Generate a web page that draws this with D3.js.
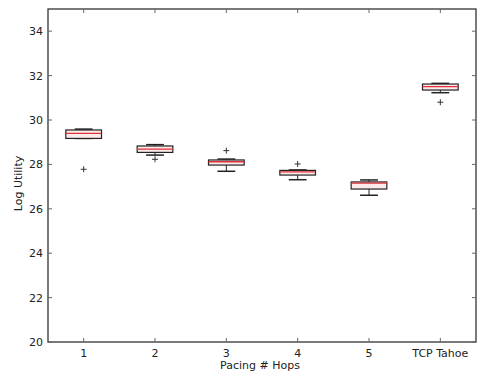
<!DOCTYPE html>
<html>
<head>
<meta charset="utf-8">
<script src="https://cdn.jsdelivr.net/npm/d3@7"></script>
<style>
  html, body { margin: 0; padding: 0; background: #fff; }
  svg { display: block; font-family: "DejaVu Sans", sans-serif; }
</style>
</head>
<body>
<svg id="chart" width="477" height="375"></svg>
<script>
// Box statistics per pacing configuration (log utility)
const categories = ["1", "2", "3", "4", "5", "TCP Tahoe"];
const whiskerLow  = [29.17, 28.42, 27.69, 27.31, 26.61, 31.23];
const q1          = [29.17, 28.54, 27.97, 27.52, 26.89, 31.35];
const medians     = [29.40, 28.69, 28.12, 27.66, 27.16, 31.50];
const q3          = [29.55, 28.83, 28.20, 27.73, 27.21, 31.62];
const whiskerHigh = [29.59, 28.89, 28.24, 27.75, 27.30, 31.65];
const outliers    = [[27.78], [28.23], [28.62], [28.02], [], [30.80]];
const yTicks = [20, 22, 24, 26, 28, 30, 32, 34];

const svg = d3.select("#chart");
const margin = { left: 48, right: 1, top: 9, bottom: 33 };
const W = 477, H = 375;
const x0 = margin.left, x1 = W - margin.right;
const y0 = H - margin.bottom, y1 = margin.top;

// Position scale: category i sits at i+1, axis spans 0.5..6.5
const x = d3.scaleLinear().domain([0.5, categories.length + 0.5]).range([x0, x1]);
const y = d3.scaleLinear().domain([20, 35]).range([y0, y1]);
const boxHalf = (x(1.25) - x(1));
const capHalf = boxHalf / 2;

const data = categories.map((c, i) => ({
  cat: c, pos: i + 1, lo: whiskerLow[i], q1: q1[i], med: medians[i],
  q3: q3[i], hi: whiskerHigh[i], out: outliers[i]
}));

const g = svg.append("g");

// Whiskers
g.selectAll(".whisk").data(data).join("g").each(function(d) {
  const s = d3.select(this);
  const cx = x(d.pos);
  s.append("line").attr("x1", cx).attr("x2", cx).attr("y1", y(d.q3)).attr("y2", y(d.hi))
    .attr("stroke", "#222").attr("stroke-width", 1);
  s.append("line").attr("x1", cx).attr("x2", cx).attr("y1", y(d.q1)).attr("y2", y(d.lo))
    .attr("stroke", "#222").attr("stroke-width", 1);
  s.append("line").attr("x1", cx - capHalf).attr("x2", cx + capHalf).attr("y1", y(d.hi)).attr("y2", y(d.hi))
    .attr("stroke", "#222").attr("stroke-width", 1.5);
  s.append("line").attr("x1", cx - capHalf).attr("x2", cx + capHalf).attr("y1", y(d.lo)).attr("y2", y(d.lo))
    .attr("stroke", "#222").attr("stroke-width", 1.5);
});

// Boxes
g.selectAll(".box").data(data).join("rect")
  .attr("x", d => x(d.pos) - boxHalf)
  .attr("width", 2 * boxHalf)
  .attr("y", d => y(d.q3))
  .attr("height", d => Math.max(1, y(d.q1) - y(d.q3)))
  .attr("fill", "#fbeaea")
  .attr("stroke", "#222").attr("stroke-width", 1.2);

// Medians
g.selectAll(".med").data(data).join("line")
  .attr("x1", d => x(d.pos) - boxHalf).attr("x2", d => x(d.pos) + boxHalf)
  .attr("y1", d => y(d.med)).attr("y2", d => y(d.med))
  .attr("stroke", "#e0303a").attr("stroke-width", 1.3);

// Outlier markers
const flyers = data.flatMap(d => d.out.map(v => ({ pos: d.pos, v })));
g.selectAll(".flier").data(flyers).join("path")
  .attr("d", d => {
    const cx = x(d.pos), cy = y(d.v), r = 3;
    return `M${cx - r},${cy}H${cx + r}M${cx},${cy - r}V${cy + r}`;
  })
  .attr("stroke", "#333").attr("stroke-width", 1);

// Axes frame
svg.append("rect").attr("x", x0).attr("y", y1).attr("width", x1 - x0).attr("height", y0 - y1)
  .attr("fill", "none").attr("stroke", "#333").attr("stroke-width", 1.3);

// Ticks (inward on all four sides)
const tickLen = 4;
const xt = d3.range(1, categories.length + 1);
svg.append("g").selectAll("line").data(xt).join("line")
  .attr("x1", d => x(d)).attr("x2", d => x(d)).attr("y1", y0).attr("y2", y0 - tickLen)
  .attr("stroke", "#666");
svg.append("g").selectAll("line").data(xt).join("line")
  .attr("x1", d => x(d)).attr("x2", d => x(d)).attr("y1", y1).attr("y2", y1 + tickLen)
  .attr("stroke", "#666");
svg.append("g").selectAll("line").data(yTicks).join("line")
  .attr("x1", x0).attr("x2", x0 + tickLen).attr("y1", d => y(d)).attr("y2", d => y(d))
  .attr("stroke", "#666");
svg.append("g").selectAll("line").data(yTicks).join("line")
  .attr("x1", x1).attr("x2", x1 - tickLen).attr("y1", d => y(d)).attr("y2", d => y(d))
  .attr("stroke", "#666");

// Tick labels
svg.append("g").selectAll("text").data(categories).join("text")
  .attr("x", (d, i) => x(i + 1)).attr("y", y0 + 15)
  .attr("text-anchor", "middle").attr("font-size", 11).attr("fill", "#222")
  .text(d => d);
svg.append("g").selectAll("text").data(yTicks).join("text")
  .attr("x", x0 - 5).attr("y", d => y(d) + 4)
  .attr("text-anchor", "end").attr("font-size", 11).attr("fill", "#222")
  .text(d => d);

// Axis titles
svg.append("text").attr("x", (x0 + x1) / 2 - 2).attr("y", y0 + 27)
  .attr("text-anchor", "middle").attr("font-size", 11).attr("fill", "#222")
  .text("Pacing # Hops");
svg.append("text")
  .attr("transform", `translate(22,${(y0 + y1) / 2 + 8}) rotate(-90)`)
  .attr("text-anchor", "middle").attr("font-size", 11).attr("fill", "#222")
  .text("Log Utility");
</script>
</body>
</html>
